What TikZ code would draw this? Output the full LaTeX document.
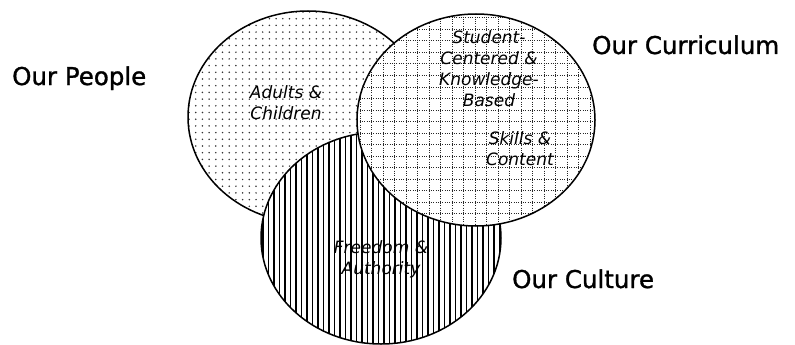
\documentclass[tikz,border=0pt]{standalone}
\usepackage{fontspec}
\setmainfont{DejaVu Sans}
\newfontfamily\outfont[FakeBold=1.2]{DejaVu Sans}
\begin{document}
\begin{tikzpicture}[x=1pt,y=-1pt,
  outline/.style={draw=black,line width=1.5pt},
  dotcol/.style={fill=black!80},
  gridline/.style={draw=black!85,line width=1pt,dash pattern=on 1pt off 1.3pt},
  hatch/.style={draw=black,line width=1.8pt},
  inlab/.style={align=center,inner sep=0pt,font=\itshape\fontsize{17}{21}\selectfont},
  outlab/.style={anchor=base west,inner sep=0pt,font=\outfont\fontsize{24.5}{29}\selectfont}]
\useasboundingbox (0,0) rectangle (795,345);
\coordinate (P) at (308,117);
\coordinate (R) at (476,120);
\coordinate (C) at (381,238);
% Our People ellipse (dots)
\begin{scope}
  \clip (P) ellipse [x radius=120, y radius=106];
  \fill[white] (P) ellipse [x radius=120, y radius=106];
  \foreach \i in {0,...,36} \foreach \j in {0,...,32}
    \fill[dotcol] (189+\i*6.7, 12+\j*6.7) circle (0.85);
\end{scope}
\draw[outline] (P) ellipse [x radius=120, y radius=106];
% Our Culture ellipse (vertical lines)
\begin{scope}
  \clip (C) ellipse [x radius=120, y radius=106];
  \fill[white] (C) ellipse [x radius=120, y radius=106];
  \foreach \i in {0,...,44}
    \draw[hatch] (263+\i*5.5, 128) -- (263+\i*5.5, 346);
\end{scope}
\draw[outline] (C) ellipse [x radius=120, y radius=106];
% Our Curriculum ellipse (dotted grid)
\begin{scope}
  \clip (R) ellipse [x radius=119, y radius=106];
  \fill[white] (R) ellipse [x radius=119, y radius=106];
  \foreach \i in {0,...,21}
    \draw[gridline] (360+\i*11.5, 12) -- (360+\i*11.5, 230);
  \foreach \j in {0,...,19}
    \draw[gridline] (355, 18+\j*11.5) -- (600, 18+\j*11.5);
\end{scope}
\draw[outline] (R) ellipse [x radius=119, y radius=106];
% inner labels
\node[inlab] (adults) at (286,103) {Adults \&\\Children};
\node[inlab] (student) at (489,69) {Student-\\Centered \&\\Knowledge-\\Based};
\node[inlab] (skills) at (520,149) {Skills \&\\Content};
\node[inlab] (freedom) at (381,259) {Freedom \&\\Authority};
% outer labels
\node[outlab] (people) at (12,85) {Our People};
\node[outlab] (curriculum) at (592,54) {Our Curriculum};
\node[outlab] (culture) at (512,288) {Our Culture};
\end{tikzpicture}
\end{document}
